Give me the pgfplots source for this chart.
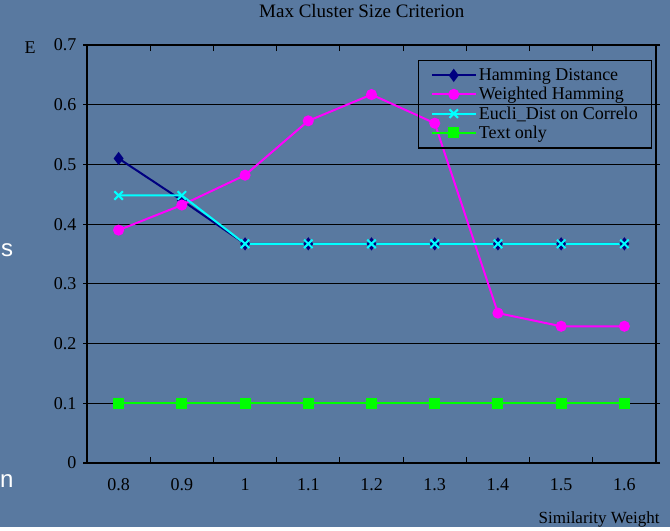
\documentclass[border=0pt]{standalone}
\usepackage{fontspec}
\setmainfont{Liberation Serif}
\newfontfamily\slidefont{Liberation Sans}
\usepackage{pgfplots}
\pgfplotsset{compat=1.18}

\definecolor{slidebg}{RGB}{89,121,160}
\definecolor{hamm}{RGB}{0,0,128}
\definecolor{whamm}{RGB}{255,0,255}
\definecolor{eucli}{RGB}{0,255,255}
\definecolor{textonly}{RGB}{0,255,0}

\pgfplotstableread{
x ham wham eucli text
0 0.51  0.39  0.448 0.1
1 0.44  0.432 0.448 0.1
2 0.367 0.482 0.367 0.1
3 0.367 0.573 0.367 0.1
4 0.367 0.617 0.367 0.1
5 0.367 0.569 0.367 0.1
6 0.367 0.251 0.367 0.1
7 0.367 0.229 0.367 0.1
8 0.367 0.229 0.367 0.1
}\crit

\begin{document}
\begin{tikzpicture}[x=1pt,y=1pt]
\begin{axis}[
    at={(87pt,64pt)}, anchor=south west,
    scale only axis, width=569pt, height=418pt,
    set layers,
    xmin=-0.5, xmax=8.5, ymin=0, ymax=0.7,
    axis line style={black, line width=1.5pt},
    font=\fontsize{18}{20}\selectfont,
    xtick={0,...,8},
    xticklabels={0.8,0.9,1,1.1,1.2,1.3,1.4,1.5,1.6},
    major x tick style={draw=none},
    minor xtick={0.5,1.5,...,7.5},
    ytick={0,0.1,0.2,0.3,0.4,0.5,0.6,0.7},
    yticklabels={0,0.1,0.2,0.3,0.4,0.5,0.6,0.7},
    tick align=outside,
    major tick length=4pt, minor tick length=-6pt,
    tick style={black, line width=1.2pt},
    xticklabel style={yshift=-8pt},
    yticklabel style={xshift=-3pt},
    ymajorgrids, grid style={black, line width=1pt},
    title={Max Cluster Size Criterion},
    title style={at={(axis description cs:0.483,1)}, anchor=center, yshift=28pt,
        font=\fontsize{19}{21}\selectfont},
    ylabel={E},
    ylabel style={at={(axis description cs:-0.1,0.993)}, rotate=-90, anchor=center},
    xlabel={Similarity Weight},
    xlabel style={at={(axis description cs:0.9,-0.134)}, anchor=center,
        font=\fontsize{17}{19}\selectfont},
    legend style={at={(axis description cs:0.582,0.964)}, anchor=north west,
        fill=none, draw=black, line width=1.2pt, font=\fontsize{18}{19}\selectfont,
        row sep=1.3pt, inner xsep=12pt, inner ysep=6pt},
    legend cell align=left,
    legend image code/.code={\draw[line width=2pt,mark repeat=2,mark phase=2]
        plot coordinates {(0pt,0pt) (22pt,0pt) (44pt,0pt)};},
]
\addplot[hamm, line width=2pt, mark=diamond*, mark size=5pt] table[x=x,y=ham] {\crit};
\addlegendentry{Hamming Distance}
\addplot[whamm, line width=2pt, mark=*, mark size=4.5pt] table[x=x,y=wham] {\crit};
\addlegendentry{Weighted Hamming}
\addplot[eucli, line width=2pt, mark=x, mark size=6pt] table[x=x,y=eucli] {\crit};
\addlegendentry{Eucli\_Dist on Correlo}
\addplot[textonly, line width=2pt, mark=square*, mark size=4.5pt] table[x=x,y=text] {\crit};
\addlegendentry{Text only}
\end{axis}
% slide background under the axis layers
\begin{pgfonlayer}{axis background}
\fill[slidebg] (0,0) rectangle (670,527);
\end{pgfonlayer}
% bits of slide text left of the chart
\node[white,font=\slidefont\fontsize{24}{28}\selectfont,anchor=west,inner sep=0pt] at (1,277) {s};
\node[white,font=\slidefont\fontsize{24}{28}\selectfont,anchor=west,inner sep=0pt] at (0,46) {n};
\end{tikzpicture}
\end{document}
